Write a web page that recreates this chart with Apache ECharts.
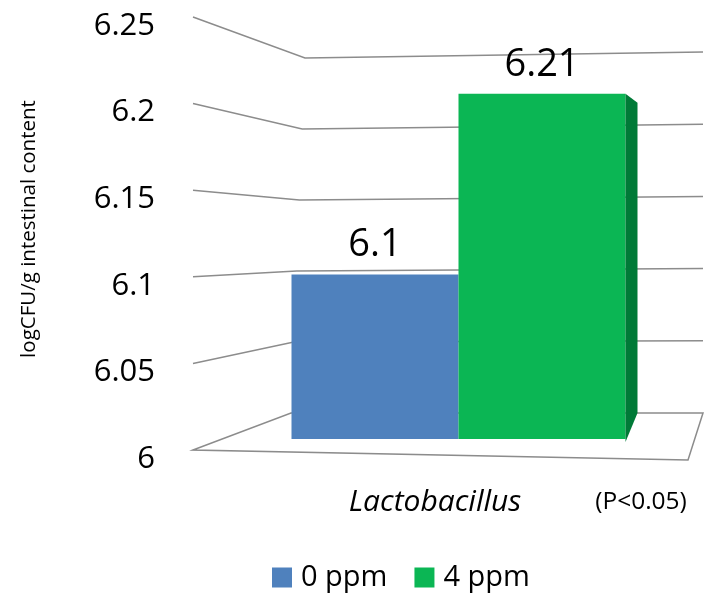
<!DOCTYPE html>
<html><head><meta charset="utf-8">
<script src="https://cdn.jsdelivr.net/npm/echarts@6/dist/echarts.min.js"></script>
<style>html,body{margin:0;padding:0;background:#fff}#c{width:707px;height:601px}</style>
</head><body><div id="c"></div>
<script>
// ---- data ----
const categories = ['Lactobacillus'];
const seriesNames = ['0 ppm', '4 ppm'];
const values0ppm = [6.1];
const values4ppm = [6.21];
const yTicks = [6, 6.05, 6.1, 6.15, 6.2, 6.25];
const yTickLabels = ['6', '6.05', '6.1', '6.15', '6.2', '6.25'];
const noteText = '(P<0.05)';
const yTitle = 'logCFU/g intestinal content';

const yMin = yTicks[0], yMax = yTicks[yTicks.length - 1], yStep = 0.05;
const FONT = '"Open Sans", "Liberation Sans", sans-serif';
const BAR_W = 167;
const GRID_COLOR = '#8c8c8c';

const chart = echarts.init(document.getElementById('c'), null, {renderer: 'canvas'});

const option = {
  backgroundColor: '#fff',
  animation: false,
  grid: [
    {left: 250, right: 40, top: 28, bottom: 162},          // bars (front faces)
    {left: 193, width: 10, top: 26, height: 433},          // tick labels
    {left: 193, right: 4, top: 17, height: 433}            // 3D walls
  ],
  xAxis: [
    {gridIndex: 0, type: 'category', data: categories,
     axisLine: {show: false}, axisTick: {show: false}, splitLine: {show: false},
     axisLabel: {fontSize: 30, fontStyle: 'italic', fontFamily: FONT, color: '#000',
                 margin: 48, padding: [0, 47, 0, 0]}},
    {gridIndex: 1, type: 'value', show: false},
    {gridIndex: 2, type: 'value', min: 0, max: 1, show: false}
  ],
  yAxis: [
    {gridIndex: 0, type: 'value', min: yMin, max: yMax, interval: yStep, show: false},
    {gridIndex: 1, type: 'value', min: yMin, max: yMax, interval: yStep,
     axisLine: {show: false}, axisTick: {show: false}, splitLine: {show: false},
     axisLabel: {fontSize: 31, fontFamily: FONT, color: '#000', margin: 38,
       formatter: function (v) {
         const i = yTicks.findIndex(t => Math.abs(t - v) < 1e-9);
         return i >= 0 ? yTickLabels[i] : '';
       }}},
    {gridIndex: 2, type: 'value', min: yMin, max: yMax, show: false}
  ],
  legend: {
    data: seriesNames, left: 272, top: 563, padding: 0,
    icon: 'rect', itemWidth: 20, itemHeight: 20, itemGap: 27,
    textStyle: {fontSize: 29, fontFamily: FONT, color: '#000', padding: [0, 0, 0, 4]}
  },
  graphic: [
    {type: 'text', x: 29, y: 229, rotation: Math.PI / 2,
     style: {text: yTitle, fontSize: 20.5, fontFamily: FONT, fill: '#000',
             align: 'center', verticalAlign: 'middle'}},
    {type: 'text', x: 641, y: 502,
     style: {text: noteText, fontSize: 24.5, fontFamily: FONT, fill: '#000',
             align: 'center', verticalAlign: 'middle'}}
  ],
  series: [
    {
      type: 'custom', name: 'walls', xAxisIndex: 2, yAxisIndex: 2, z: 1, silent: true,
      data: yTicks.map(v => [0, v]),
      renderItem: function (params, api) {
        const v = api.value(1);
        const front = api.coord([0, v]);
        const cs = params.coordSys;
        const t = (v - yMin) / (yMax - yMin);
        const backBottom = cs.y + cs.height - 37;
        const corner = [cs.x + 98 + 14 * t, backBottom - 355 * t];
        const right = [cs.x + cs.width, backBottom - 361 * t];
        const style = {stroke: GRID_COLOR, lineWidth: 1.5, fill: null};
        if (Math.abs(v - yMin) < 1e-9) {
          return {type: 'polygon', shape: {points: [front, corner, right,
                    [right[0] - 15, front[1] + 10]]}, style: style};
        }
        return {type: 'polyline', shape: {points: [front, corner, right]}, style: style};
      }
    },
    {
      type: 'bar', name: seriesNames[0], xAxisIndex: 0, yAxisIndex: 0, z: 3,
      data: values0ppm, barWidth: BAR_W, barGap: '0%',
      itemStyle: {color: '#4f81bd'},
      label: {show: true, position: 'top', distance: 10, fontSize: 38,
              fontFamily: FONT, color: '#000'}
    },
    {
      type: 'bar', name: seriesNames[1], xAxisIndex: 0, yAxisIndex: 0, z: 3,
      data: values4ppm, barWidth: BAR_W, barGap: '0%',
      itemStyle: {color: '#0bb654'},
      label: {show: true, position: 'top', distance: 10, fontSize: 38,
              fontFamily: FONT, color: '#000'}
    },
    {
      type: 'custom', name: 'side', xAxisIndex: 0, yAxisIndex: 0, z: 4, silent: true,
      data: values4ppm.map((v, i) => [i, v]),
      renderItem: function (params, api) {
        const top = api.coord([api.value(0), api.value(1)]);
        const base = api.coord([api.value(0), yMin]);
        const xR = top[0] + BAR_W;
        return {type: 'polygon', shape: {points: [
          [xR, top[1]], [xR + 12, top[1] + 9], [xR + 12, base[1] - 26], [xR, base[1] + 3]]},
          style: {fill: '#007a37'}};
      }
    }
  ]
};
chart.setOption(option);
</script>
</body></html>
